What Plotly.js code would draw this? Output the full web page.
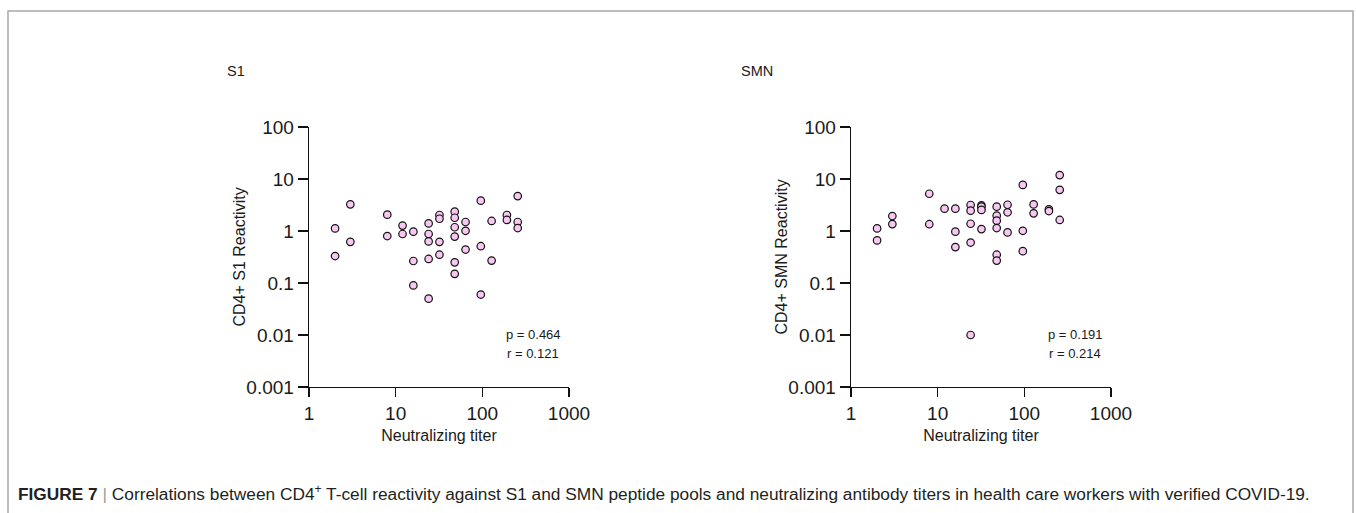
<!DOCTYPE html>
<html>
<head>
<meta charset="utf-8">
<script src="https://cdn.plot.ly/plotly-3.0.1.min.js"></script>
<style>
html,body{margin:0;padding:0;background:#fff;}
#chart{width:1356px;height:513px;}
</style>
</head>
<body>
<div id="chart"></div>
<script>
// ---- data ----
const panelTitles = ["S1", "SMN"];
const yTitles = ["CD4+ S1 Reactivity", "CD4+ SMN Reactivity"];
const xTitle = "Neutralizing titer";
const xTickVals = [1, 10, 100, 1000];
const xTickText = ["1", "10", "100", "1000"];
const yTickVals = [0.001, 0.01, 0.1, 1, 10, 100];
const yTickText = ["0.001", "0.01", "0.1", "1", "10", "100"];
const statsS1 = ["p = 0.464", "r = 0.121"];
const statsSMN = ["p = 0.191", "r = 0.214"];

const s1X = [2,2,3,3,8,8,12,12,16,16,16,24,24,24,24,24,32,32,32,32,48,48,48,48,48,48,64,64,64,96,96,96,128,128,192,192,256,256,256];
const s1Y = [1.12,0.33,3.26,0.62,2.06,0.80,1.27,0.875,0.97,0.265,0.09,1.4,0.875,0.63,0.29,0.05,2.03,1.72,0.62,0.35,2.35,1.8,1.18,0.78,0.25,0.15,1.49,1.01,0.44,3.83,0.51,0.06,1.56,0.27,2.03,1.63,4.7,1.49,1.14];

const smnX = [2,2,3,3,8,8,12,16,16,16,24,24,24,24,24,32,32,32,32,48,48,48,48,48,48,64,64,64,96,96,96,128,128,192,192,256,256,256];
const smnY = [1.12,0.66,1.94,1.36,5.2,1.35,2.69,2.69,0.97,0.49,3.16,2.46,1.38,0.6,0.01,3.12,2.94,2.54,1.09,2.94,1.97,1.58,1.14,0.35,0.27,3.2,2.29,0.94,7.7,1.01,0.41,3.25,2.19,2.61,2.42,11.9,6.2,1.63];

const captionHTML = "<b>FIGURE 7</b> <span style='color:#9a9a9a'>|</span> Correlations between CD4<sup>+</sup> T-cell reactivity against S1 and SMN peptide pools and neutralizing antibody titers in health care workers with verified COVID-19.";

// ---- drawing ----
const W = 1356, H = 513;
const px = v => v / W;
const py = v => (H - v) / H;
const FONT = "Liberation Sans, Arial, sans-serif";

const marker = {size: 7.5, color: "#F8C8F3", line: {color: "#111", width: 1.2}};

const traces = [
  {x: s1X, y: s1Y, type: "scatter", mode: "markers", marker: marker, xaxis: "x", yaxis: "y", hoverinfo: "x+y", showlegend: false},
  {x: smnX, y: smnY, type: "scatter", mode: "markers", marker: marker, xaxis: "x2", yaxis: "y2", hoverinfo: "x+y", showlegend: false}
];

function xAx(d0, d1, anchor) {
  return {
    type: "log", range: [0, 3], domain: [px(d0), px(d1)], anchor: anchor,
    tickvals: xTickVals, ticktext: xTickText, ticks: "outside", ticklen: 9, tickwidth: 1.3, tickcolor: "#111",
    showline: true, linecolor: "#111", linewidth: 1.3, showgrid: false, zeroline: false,
    tickfont: {family: FONT, size: 19, color: "#1a1a1a"},
    title: {text: xTitle, font: {family: FONT, size: 16, color: "#1a1a1a"}, standoff: 6},
    automargin: false, fixedrange: true
  };
}
function yAx(anchor) {
  return {
    type: "log", range: [-3, 2], domain: [py(387), py(127)], anchor: anchor,
    tickvals: yTickVals, ticktext: yTickText, ticks: "outside", ticklen: 10, tickwidth: 1.3, tickcolor: "#111",
    showline: true, linecolor: "#111", linewidth: 1.3, showgrid: false, zeroline: false,
    tickfont: {family: FONT, size: 19, color: "#1a1a1a"},
    automargin: false, fixedrange: true
  };
}

const ann = [];
function txt(t, x, y, size, extra) {
  ann.push(Object.assign({text: t, x: px(x), y: py(y), xref: "paper", yref: "paper", showarrow: false,
    xanchor: "center", yanchor: "middle", font: {family: FONT, size: size, color: "#1a1a1a"}}, extra || {}));
}
txt(panelTitles[0], 236, 71, 14.5);
txt(panelTitles[1], 757, 71, 14.5);
txt(yTitles[0], 238.5, 257, 16, {textangle: -90});
txt(yTitles[1], 780.5, 257, 16, {textangle: -90});
txt(statsS1[0], 533, 334, 13);
txt(statsS1[1], 533, 353, 13);
txt(statsSMN[0], 1075, 334, 13);
txt(statsSMN[1], 1075, 353, 13);
ann.push({text: captionHTML, x: px(16), y: py(493), xref: "paper", yref: "paper", showarrow: false,
  xanchor: "left", yanchor: "middle", align: "left",
  font: {family: "Liberation Sans, Arial, sans-serif", size: 17.3, color: "#231f20"}});

const layout = {
  width: W, height: H,
  margin: {l: 0, r: 0, t: 0, b: 0},
  paper_bgcolor: "#fff", plot_bgcolor: "rgba(0,0,0,0)",
  showlegend: false,
  xaxis: xAx(309, 569, "y"),
  yaxis: yAx("x"),
  xaxis2: xAx(851, 1111, "y2"),
  yaxis2: yAx("x2"),
  annotations: ann,
  shapes: [{type: "path", xref: "paper", yref: "paper",
    path: `M ${px(8)} -0.05 L ${px(8)} ${py(11)} L ${px(1353)} ${py(11)} L ${px(1353)} -0.05`,
    line: {color: "#a8a8a8", width: 1.5}}]
};

Plotly.newPlot("chart", traces, layout, {staticPlot: true, displayModeBar: false});
</script>
</body>
</html>
